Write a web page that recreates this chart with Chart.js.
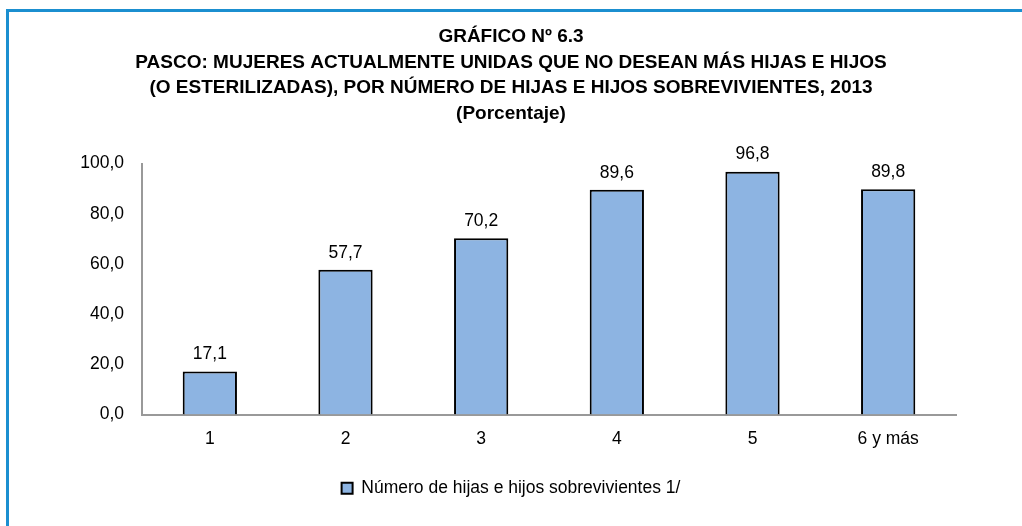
<!DOCTYPE html>
<html>
<head>
<meta charset="utf-8">
<script src="https://cdn.jsdelivr.net/npm/chart.js@4.4.1/dist/chart.umd.min.js"></script>
<style>
  html, body { margin: 0; padding: 0; background: #fff; }
  #wrap { position: relative; width: 1022px; height: 526px; overflow: hidden; }
  #frame { position: absolute; left: 6px; top: 9px; width: 1030px; height: 540px;
           border-top: 3px solid #1b8fd0; border-left: 3px solid #1b8fd0; }
  canvas { position: absolute; left: 0; top: 0; }
</style>
</head>
<body>
<div id="wrap">
  <div id="frame"></div>
  <canvas id="chart" width="1022" height="526"></canvas>
</div>
<script>
var FONT = '"Liberation Sans", Arial, sans-serif';

var titleLines = [
  'GRÁFICO Nº 6.3',
  'PASCO: MUJERES ACTUALMENTE UNIDAS QUE NO DESEAN MÁS HIJAS E HIJOS',
  '(O ESTERILIZADAS), POR NÚMERO DE HIJAS E HIJOS SOBREVIVIENTES, 2013',
  '(Porcentaje)'
];
var categories = ['1', '2', '3', '4', '5', '6 y más'];
var seriesName = 'Número de hijas e hijos sobrevivientes 1/';
var values = [17.1, 57.7, 70.2, 89.6, 96.8, 89.8];
var yTicks = [0, 20, 40, 60, 80, 100];

function fmt(v) {
  return v.toFixed(1).replace('.', ',');
}

// value labels above each bar
var barLabels = {
  id: 'barLabels',
  afterDatasetsDraw: function(chart) {
    var ctx = chart.ctx;
    var meta = chart.getDatasetMeta(0);
    ctx.save();
    ctx.font = '17.5px ' + FONT;
    ctx.fillStyle = '#000';
    ctx.textAlign = 'center';
    ctx.textBaseline = 'middle';
    meta.data.forEach(function(bar, i) {
      ctx.fillText(fmt(values[i]), bar.x, bar.y - 17);
    });
    ctx.restore();
  }
};

var ctx = document.getElementById('chart').getContext('2d');
new Chart(ctx, {
  type: 'bar',
  data: {
    labels: categories,
    datasets: [{
      label: seriesName,
      data: values,
      backgroundColor: '#8db4e2',
      borderColor: '#000',
      borderWidth: 2,
      barPercentage: 0.8,
      categoryPercentage: 0.5
    }]
  },
  options: {
    responsive: false,
    animation: false,
    layout: { padding: { left: 0, right: 0, top: 0, bottom: 19 } },
    plugins: {
      title: {
        display: true,
        text: titleLines,
        color: '#000',
        font: { family: FONT, size: 19, weight: 'bold', lineHeight: 1.35 },
        padding: { top: 24, bottom: 37 }
      },
      legend: {
        position: 'bottom',
        labels: {
          color: '#000',
          font: { family: FONT, size: 17.5 },
          boxWidth: 11,
          boxHeight: 11,
          padding: 16
        }
      },
      tooltip: { enabled: false }
    },
    scales: {
      x: {
        grid: { display: false, drawTicks: false },
        border: { color: '#999', width: 2 },
        ticks: { color: '#000', font: { family: FONT, size: 17.5 }, padding: 14 }
      },
      y: {
        min: 0,
        max: 100,
        afterFit: function(scale) { scale.width = 142; },
        afterBuildTicks: function(scale) {
          scale.ticks = yTicks.map(function(v) { return { value: v }; });
        },
        grid: { display: false, drawTicks: false },
        border: { color: '#999', width: 2 },
        ticks: {
          color: '#000',
          font: { family: FONT, size: 17.5 },
          padding: 18,
          callback: function(v) { return fmt(v); }
        }
      },
      // empty right-hand axis, only reserves the blank space right of the plot
      yRight: {
        position: 'right',
        min: 0,
        max: 100,
        afterFit: function(scale) { scale.width = 66; },
        grid: { display: false, drawTicks: false },
        border: { display: false },
        ticks: { display: false }
      }
    }
  },
  plugins: [barLabels]
});
</script>
</body>
</html>
